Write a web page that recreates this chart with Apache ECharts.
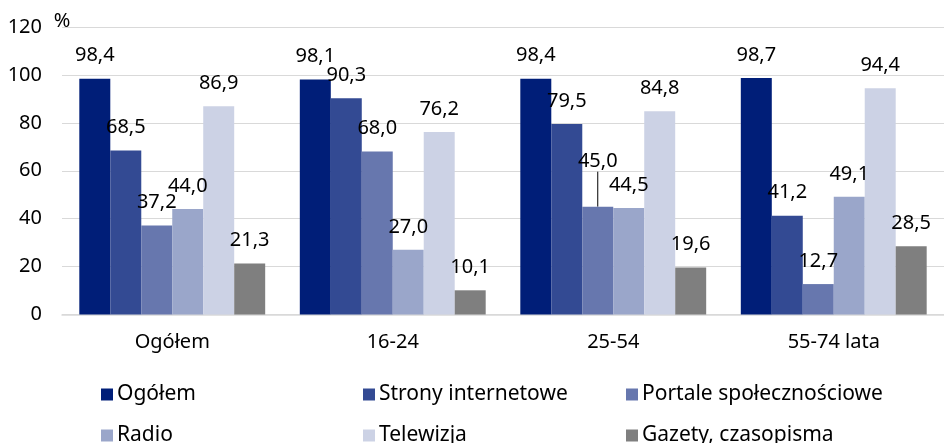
<!DOCTYPE html>
<html>
<head>
<meta charset="utf-8">
<script src="https://cdn.jsdelivr.net/npm/echarts@6/dist/echarts.min.js"></script>
<style>html,body{margin:0;padding:0;background:#fff;}#c{width:944px;height:443px;}</style>
</head>
<body>
<div id="c"></div>
<script>
const categories = ['Ogółem', '16-24', '25-54', '55-74 lata'];
const seriesNames = ['Ogółem', 'Strony internetowe', 'Portale społecznościowe', 'Radio', 'Telewizja', 'Gazety, czasopisma'];
const ogolem = [98.4, 98.1, 98.4, 98.7];
const strony = [68.5, 90.3, 79.5, 41.2];
const portale = [37.2, 68.0, 45.0, 12.7];
const radio = [44.0, 27.0, 44.5, 49.1];
const telewizja = [86.9, 76.2, 84.8, 94.4];
const gazety = [21.3, 10.1, 19.6, 28.5];
const yTicks = [0, 20, 40, 60, 80, 100, 120];

const values = [ogolem, strony, portale, radio, telewizja, gazety];
const colors = ['#001E78', '#334A93', '#6777AE', '#9AA6CA', '#CCD2E5', '#7F7F7F'];
const FONT = 'Noto Sans';
const FS = 20;
const LFS = 21;

const chart = echarts.init(document.getElementById('c'));

const legendPos = [[101, 383], [363, 383], [626, 383], [101, 424], [363, 424], [626, 424]];
const legends = seriesNames.map((n, i) => ({
  data: [n],
  left: legendPos[i][0],
  top: legendPos[i][1],
  itemWidth: 12,
  itemHeight: 12,
  icon: 'rect',
  itemGap: 0,
  padding: 0,
  selectedMode: false,
  textStyle: { fontFamily: FONT, fontSize: LFS, color: '#000', lineHeight: 23, padding: [0, 0, 0, -1] }
}));

const series = seriesNames.map((n, i) => ({
  name: n,
  type: 'bar',
  data: values[i].map((v, j) => (i === 2 && j === 2)
    ? { value: v, labelLine: { show: true, lineStyle: { color: '#000', width: 1 } } }
    : { value: v }),
  barGap: '0%',
  barCategoryGap: '15.7%',
  itemStyle: { color: colors[i] },
  label: {
    show: true,
    position: 'top',
    distance: 13,
    fontFamily: FONT,
    fontSize: FS,
    color: '#000',
    formatter: p => p.value.toFixed(1).replace('.', ',')
  },
  labelLine: { show: false },
  labelLayout: (i === 2) ? (p => p.dataIndex === 2 ? { dy: -22 } : {}) : undefined
}));

chart.setOption({
  animation: false,
  legend: legends,
  grid: { left: 62, right: -9.5, top: 27, bottom: 128.5, containLabel: false },
  xAxis: {
    type: 'category',
    data: categories,
    axisLine: { show: true, lineStyle: { color: '#d9d9d9', width: 1.5 } },
    axisTick: { show: false },
    axisLabel: { fontFamily: FONT, fontSize: FS, color: '#000', margin: 18 }
  },
  yAxis: {
    type: 'value',
    min: 0,
    max: 120,
    interval: 20,
    name: '%',
    nameGap: 6,
    nameTextStyle: { fontFamily: FONT, fontSize: FS, color: '#000', align: 'center', verticalAlign: 'middle' },
    axisLine: { show: false },
    axisTick: { show: false },
    splitLine: { lineStyle: { color: '#d9d9d9', width: 1 } },
    axisLabel: { fontFamily: FONT, fontSize: FS, color: '#000', margin: 20,
      formatter: v => yTicks.includes(v) ? String(v) : '' }
  },
  series: series
});
</script>
</body>
</html>
